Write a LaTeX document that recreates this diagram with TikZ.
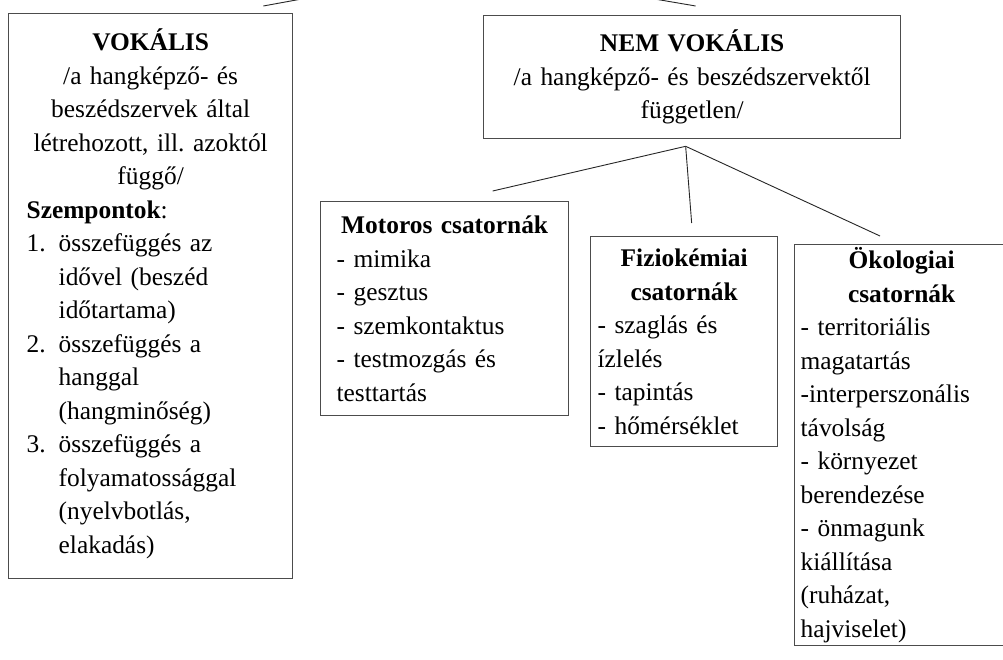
\documentclass[tikz,border=0pt]{standalone}
\usepackage{fontspec}
\setmainfont{Liberation Serif}
\usepackage{tikz}
\setlength{\parindent}{0pt}
\frenchspacing
\newcommand{\boxfont}{\fontsize{25.4}{33.5}\selectfont}
\newcommand{\midline}[1]{\makebox[\hsize][c]{#1}}
\tikzset{
	main box/.style={rectangle,draw=black!70,line width=1.3pt,anchor=north west,font=\boxfont,align=left},
	channel box/.style={main box,inner ysep=4pt},
	branch/.style={draw=black!85,line width=0.9pt}
}

\begin{document}
\begin{tikzpicture}[x=1pt,y=-1pt]
	\useasboundingbox (0,0) rectangle (1003,660);
	\clip (0,0) rectangle (1003,660);
	\node [main box,text width=248pt,inner xsep=18pt,minimum height=565pt] (vokalis) at (8,13) {%
		\midline{\textbf{VOKÁLIS}}\\\midline{/a hangképző- és}\\\midline{beszédszervek által}\\
		\midline{létrehozott, ill. azoktól}\\\midline{függő/}\\
		\textbf{Szempontok}:\\
		\begin{tabular}[t]{@{}l@{\hspace{13pt}}l@{}}
			1. & összefüggés az\\ & idővel (beszéd\\ & időtartama)\\
			2. & összefüggés a\\ & hanggal\\ & (hangminőség)\\
			3. & összefüggés a\\ & folyamatossággal\\ & (nyelvbotlás,\\ & elakadás)
		\end{tabular}};
	\node [main box,text width=397pt,inner xsep=10pt,minimum height=123pt,align=center] (nemvok) at (483,15)
		{\textbf{NEM VOKÁLIS}\\/a hangképző- és beszédszervektől\\független/};
	\node [channel box,text width=216pt,inner xsep=16pt,minimum height=214pt] (motoros) at (320,201) {%
		\midline{\textbf{Motoros csatornák}}\\
		- mimika\\- gesztus\\- szemkontaktus\\- testmozgás és\\testtartás};
	\node [channel box,text width=173pt,inner xsep=7pt,minimum height=210pt] (fizio) at (590,236) {%
		\midline{\textbf{Fiziokémiai}}\\\midline{\textbf{csatornák}}\\
		- szaglás és\\ízlelés\\- tapintás\\- hőmérséklet};
	\node [channel box,text width=202pt,inner xsep=6pt,inner ysep=3pt] (okol) at (794,244) {%
		\midline{\textbf{Ökologiai}}\\\midline{\textbf{csatornák}}\\
		- territoriális\\magatartás\\-interperszonális\\távolság\\- környezet\\berendezése\\- önmagunk\\kiállítása\\(ruházat,\\hajviselet)\\[30pt]};

	\coordinate (root) at (472,-32);
	\coordinate (vok end) at ([shift={(-30,-7)}]vokalis.north east);
	\coordinate (nem end) at ([shift={(3.5,-9)}]nemvok.north);
	\coordinate (split) at ([shift={(-6.5,7)}]nemvok.south);
	\coordinate (motoros end) at ([shift={(48,-10)}]motoros.north);
	\coordinate (fizio end) at ([shift={(7.5,-13)}]fizio.north);
	\coordinate (okol end) at ([shift={(86,-8)}]okol.north west);

	\draw [branch] (root) -- (vok end);
	\draw [branch] (root) -- (nem end);
	\draw [branch] (split) -- (motoros end);
	\draw [branch] (split) -- (fizio end);
	\draw [branch] (split) -- (okol end);
\end{tikzpicture}
\end{document}
